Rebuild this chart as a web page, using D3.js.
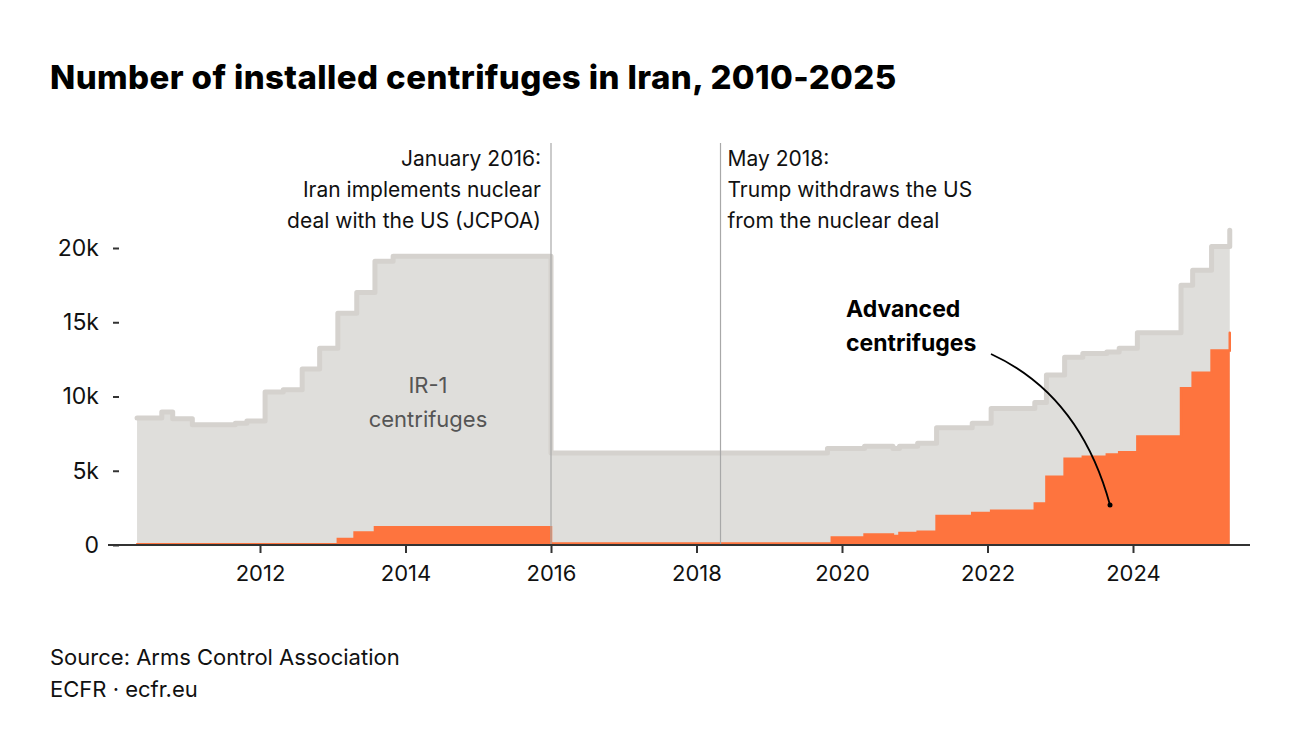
<!DOCTYPE html>
<html><head><meta charset="utf-8">
<script src="https://cdn.jsdelivr.net/npm/d3@7"></script>
<style>body{margin:0;background:#fff;font-family:Inter,"Noto Sans",sans-serif}</style>
</head><body><div id="graph"></div>
<script>
// step dates (decimal years) and values (thousands)
const totalDates = [2010.31,2010.65,2010.80,2011.07,2011.66,2011.82,2012.07,2012.32,2012.58,2012.82,2013.07,2013.33,2013.58,2013.83,2016.0,2019.8,2020.31,2020.7,2020.79,2021.04,2021.3,2021.79,2022.05,2022.65,2022.81,2023.06,2023.31,2023.64,2023.81,2024.06,2024.66,2024.82,2025.08,2025.33];
const totalValues = [8.55,8.95,8.5,8.1,8.2,8.35,10.3,10.45,11.85,13.25,15.6,17.0,19.1,19.45,6.2,6.5,6.65,6.5,6.65,6.85,7.9,8.2,9.2,9.6,11.45,12.65,12.9,13.0,13.25,14.3,17.5,18.5,20.1,21.2];
const advDates = [2010.31,2013.07,2013.3,2013.58,2016.0,2019.86,2020.31,2020.7,2020.79,2021.04,2021.3,2021.79,2022.05,2022.65,2022.81,2023.06,2023.31,2023.64,2023.81,2024.06,2024.66,2024.82,2025.08,2025.33];
const advValues = [0.05,0.4,0.85,1.2,0.1,0.5,0.7,0.6,0.8,0.9,1.95,2.15,2.3,2.8,4.6,5.8,5.95,6.1,6.25,7.3,10.55,11.6,13.1,14.3];
const xTicks = [2012,2014,2016,2018,2020,2022,2024];
const yTicks = [0,5,10,15,20];

const w = 1300, h = 756;
const svg = d3.select('#graph').append('svg').attr('width',w).attr('height',h);
const xScale = d3.scaleLinear().domain([2012,2024]).range([260,1133]);
const yScale = d3.scaleLinear().domain([0,20]).range([545,248]);

const total = totalDates.map((d,i) => [d, totalValues[i]]);
const adv = advDates.map((d,i) => [d, advValues[i]]);

const area = d3.area().curve(d3.curveStepAfter)
  .x(d => xScale(d[0])).y0(yScale(0)).y1(d => yScale(d[1]));
const line = d3.line().curve(d3.curveStepAfter)
  .x(d => xScale(d[0])).y(d => yScale(d[1]));

svg.append('path').datum(total).attr('d',area).attr('fill','#dfdedb');
svg.append('path').datum(total).attr('d',line).attr('fill','none')
  .attr('stroke','#d5d2ce').attr('stroke-width',5).attr('stroke-linejoin','round').attr('stroke-linecap','round');
svg.append('path').datum(adv).attr('d',area).attr('fill','#fe743e');
svg.append('path').datum(adv).attr('d',line).attr('fill','none')
  .attr('stroke','#fe743e').attr('stroke-width',2.5).attr('stroke-linecap','round');

// annotation lines
[2016.0, 2018.33].forEach(d => {
  svg.append('line').attr('x1',xScale(d)).attr('x2',xScale(d))
    .attr('y1',143).attr('y2',545).attr('stroke','#a8a8a8').attr('stroke-width',1.2);
});
const annoL = ['January 2016:','Iran implements nuclear','deal with the US (JCPOA)'];
const annoR = ['May 2018:','Trump withdraws the US','from the nuclear deal'];
annoL.forEach((t,i) => svg.append('text').text(t).attr('x',xScale(2016)-10).attr('y',166+i*31)
  .attr('text-anchor','end').attr('font-size',21).attr('fill','#111'));
annoR.forEach((t,i) => svg.append('text').text(t).attr('x',xScale(2018.33)+7).attr('y',166+i*31)
  .attr('font-size',21).attr('fill','#111'));

// x-axis
const xAxis = d3.axisBottom(xScale).tickValues(xTicks).tickFormat(d3.format('d')).tickSize(8).tickPadding(12);
const gx = svg.append('g').attr('transform','translate(0,545)').call(xAxis);
gx.select('.domain').attr('d','M108,0H1250').attr('stroke','#333').attr('stroke-width',2);
gx.selectAll('.tick line').attr('stroke','#333').attr('stroke-width',2);
gx.selectAll('text').attr('font-size',22).attr('fill','#111').attr('font-family','Inter,"Noto Sans",sans-serif');

// y-axis
const yAxis = d3.axisLeft(yScale).tickValues(yTicks).tickFormat(d => d === 0 ? '0' : d + 'k').tickSize(6).tickPadding(14);
const gy = svg.append('g').attr('transform','translate(119,0)').call(yAxis);
gy.select('.domain').remove();
gy.selectAll('.tick line').attr('stroke','#333').attr('stroke-width',2);
gy.selectAll('text').attr('font-size',23).attr('fill','#111').attr('font-family','Inter,"Noto Sans",sans-serif');

// labels
svg.append('text').text('IR-1').attr('x',428).attr('y',393).attr('text-anchor','middle').attr('font-size',22).attr('fill','#555');
svg.append('text').text('centrifuges').attr('x',428).attr('y',427).attr('text-anchor','middle').attr('font-size',22).attr('fill','#555');
svg.append('text').text('Advanced').attr('x',846).attr('y',317).attr('font-size',23).attr('font-weight',700).attr('fill','#000');
svg.append('text').text('centrifuges').attr('x',846).attr('y',351).attr('font-size',23).attr('font-weight',700).attr('fill','#000');
svg.append('path').attr('d','M991,354 Q1080,395 1110,505').attr('fill','none').attr('stroke','#000').attr('stroke-width',1.8);
svg.append('circle').attr('cx',1110).attr('cy',505).attr('r',2.5).attr('fill','#000');

// title and source
svg.append('text').text('Number of installed centrifuges in Iran, 2010-2025').attr('x',50).attr('y',89)
  .attr('font-size',33).attr('font-weight',800).attr('letter-spacing',0.4).attr('fill','#000');
svg.append('text').text('Source: Arms Control Association').attr('x',50).attr('y',665).attr('font-size',22).attr('fill','#111');
svg.append('text').text('ECFR · ecfr.eu').attr('x',50).attr('y',697).attr('font-size',22).attr('fill','#111');
</script></body></html>
